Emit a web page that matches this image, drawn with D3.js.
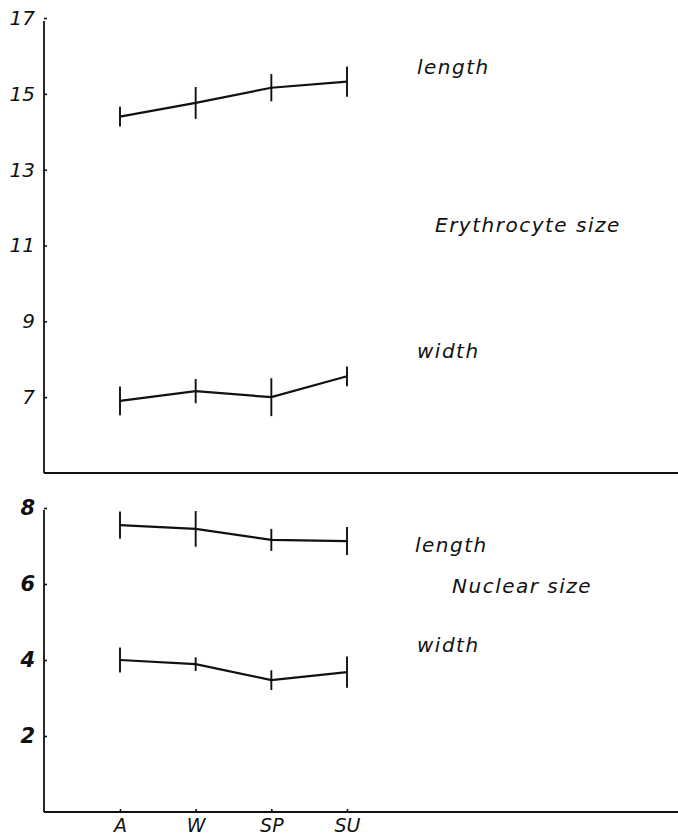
<!DOCTYPE html>
<html>
<head>
<meta charset="utf-8">
<script src="https://cdn.jsdelivr.net/npm/d3@7"></script>
<style>
  body { margin: 0; background: #fff; }
  text { font-family: "DejaVu Sans", sans-serif; font-style: italic; fill: #111; }
</style>
</head>
<body>
<div id="chart"></div>
<script>
//seasons on the x axis
const seasons = ['A', 'W', 'SP', 'SU']

//erythrocyte size (top panel): means and half error bars
const eryLength = [14.4, 14.76, 15.16, 15.32]
const eryLengthErr = [0.26, 0.42, 0.36, 0.4]
const eryWidth = [6.9, 7.16, 7.0, 7.55]
const eryWidthErr = [0.38, 0.32, 0.5, 0.26]

//nuclear size (bottom panel)
const nucLength = [7.55, 7.45, 7.16, 7.13]
const nucLengthErr = [0.36, 0.47, 0.29, 0.37]
const nucWidth = [4.0, 3.89, 3.47, 3.68]
const nucWidthErr = [0.33, 0.18, 0.26, 0.41]

//tick labels
const topTicks = [7, 9, 11, 13, 15, 17]
const bottomTicks = [2, 4, 6, 8]

const W = 678, H = 839
const axisX = 44, rightX = 678

const svg = d3.select('#chart')
  .append('svg')
  .attr('width', W)
  .attr('height', H)

//x scale shared by both panels
const x = d3.scalePoint()
  .domain(seasons)
  .range([120, 347])

//y scales
const yTop = d3.scaleLinear().domain([5, 17]).range([473, 18])
const yBot = d3.scaleLinear().domain([0, 8]).range([812, 508])

//draw one panel: left axis, bottom line, series with error bars
function panel(y, ticks, series, yAxisTop, tickFont, tickWeight) {
  const g = svg.append('g')

  //left axis with small inward ticks
  const ax = g.append('g')
    .attr('transform', `translate(${axisX},0)`)
    .call(d3.axisLeft(y).tickValues(ticks).tickSize(-3).tickPadding(9).tickSizeOuter(0))
  ax.select('.domain').remove()
  ax.selectAll('.tick line').attr('stroke', '#111').attr('stroke-width', 1.6)
  ax.selectAll('.tick text')
    .style('font-size', tickFont)
    .style('font-weight', tickWeight)
    .attr('fill', '#111')

  //frame lines
  g.append('line')
    .attr('x1', axisX).attr('x2', axisX)
    .attr('y1', yAxisTop).attr('y2', y.range()[0])
    .attr('stroke', '#111').attr('stroke-width', 1.8)
  g.append('line')
    .attr('x1', axisX).attr('x2', rightX)
    .attr('y1', y.range()[0]).attr('y2', y.range()[0])
    .attr('stroke', '#111').attr('stroke-width', 1.8)

  const line = d3.line()
    .x((d, i) => x(seasons[i]))
    .y(d => y(d))

  series.forEach(s => {
    g.append('path')
      .datum(s.values)
      .attr('d', line)
      .attr('fill', 'none')
      .attr('stroke', '#111')
      .attr('stroke-width', 2.2)

    //error bars (vertical strokes only, as in the original)
    g.selectAll(null)
      .data(s.values)
      .join('line')
        .attr('x1', (d, i) => x(seasons[i]))
        .attr('x2', (d, i) => x(seasons[i]))
        .attr('y1', (d, i) => y(d + s.err[i]))
        .attr('y2', (d, i) => y(d - s.err[i]))
        .attr('stroke', '#111')
        .attr('stroke-width', 1.9)

    //series label
    g.append('text')
      .attr('x', s.lx)
      .attr('y', s.ly)
      .style('font-size', '20px')
      .style('letter-spacing', '1.5px')
      .text(s.label)
  })
  return g
}

panel(yTop, topTicks, [
  {values: eryLength, err: eryLengthErr, label: 'length', lx: 417, ly: 74},
  {values: eryWidth, err: eryWidthErr, label: 'width', lx: 417, ly: 358}
], 21, '20px', 'normal')

panel(yBot, bottomTicks, [
  {values: nucLength, err: nucLengthErr, label: 'length', lx: 415, ly: 552},
  {values: nucWidth, err: nucWidthErr, label: 'width', lx: 417, ly: 652}
], 510, '21px', 'bold')

//panel titles
svg.append('text')
  .attr('x', 435).attr('y', 232)
  .style('font-size', '20px')
  .style('letter-spacing', '1.5px')
  .text('Erythrocyte size')
svg.append('text')
  .attr('x', 452).attr('y', 593)
  .style('font-size', '20px')
  .style('letter-spacing', '1.5px')
  .text('Nuclear size')

//season axis under the bottom panel
const xa = svg.append('g')
  .attr('transform', `translate(0,${yBot.range()[0]})`)
  .call(d3.axisBottom(x).tickSize(-3).tickPadding(7).tickSizeOuter(0))
xa.select('.domain').remove()
xa.selectAll('.tick line').attr('stroke', '#111').attr('stroke-width', 1.6)
xa.selectAll('.tick text')
  .style('font-size', '19px')
  .attr('fill', '#111')
</script>
</body>
</html>
